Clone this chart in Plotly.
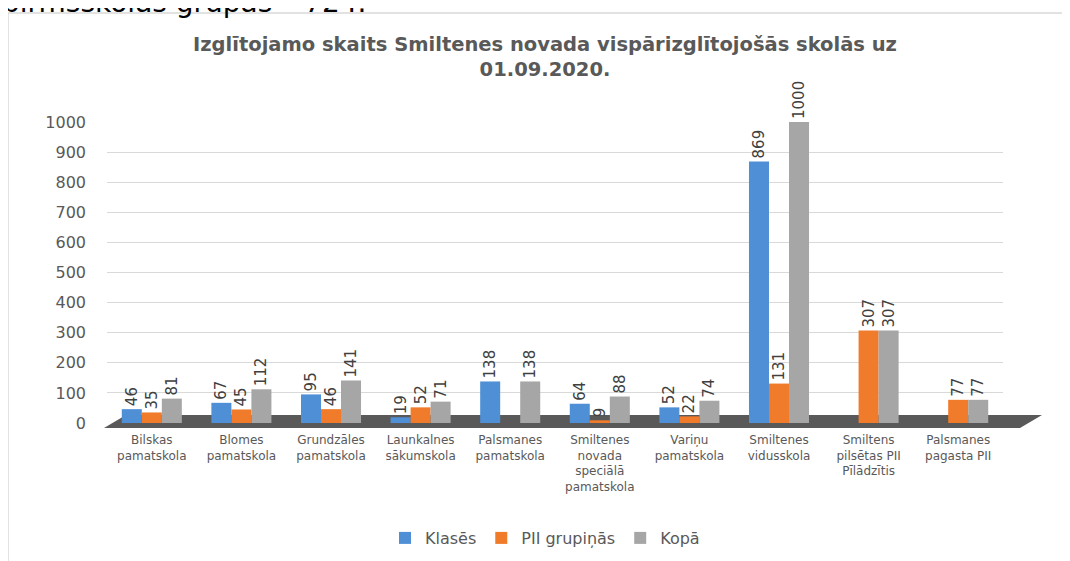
import plotly.graph_objects as go

categories = ["Bilskas<br>pamatskola", "Blomes<br>pamatskola", "Grundzāles<br>pamatskola",
              "Launkalnes<br>sākumskola", "Palsmanes<br>pamatskola",
              "Smiltenes<br>novada<br>speciālā<br>pamatskola", "Variņu<br>pamatskola",
              "Smiltenes<br>vidusskola", "Smiltens<br>pilsētas PII<br>Pīlādzītis",
              "Palsmanes<br>pagasta PII"]
klases = [46, 67, 95, 19, 138, 64, 52, 869, None, None]
pii = [35, 45, 46, 52, None, 9, 22, 131, 307, 77]
kopa = [81, 112, 141, 71, 138, 88, 74, 1000, 307, 77]
y_ticks = [0, 100, 200, 300, 400, 500, 600, 700, 800, 900, 1000]

series = [("Klasēs", klases, "#4F8FD6"),
          ("PII grupiņās", pii, "#F07B2A"),
          ("Kopā", kopa, "#A6A6A6")]

FONT = "DejaVu Sans"

fig = go.Figure()
for name, vals, col in series:
    fig.add_trace(go.Bar(
        x=categories, y=vals, name=name,
        marker=dict(color=col, line=dict(width=0)),
        text=[("" if v is None else str(v)) for v in vals],
        textposition="outside", textangle=-90, constraintext="none",
        textfont=dict(family=FONT, size=15, color="#404040"),
        cliponaxis=False,
    ))

W, H = 1070, 561
OFF = 8  # page body margin offset
# plot area in page pixels
L_ref, R_ref, T_ref, B_ref = 107, 1003, 122, 423
L, T = L_ref - OFF, T_ref - OFF
R, B = W - (R_ref - OFF), H - (B_ref - OFF)
pw, ph = R_ref - L_ref, B_ref - T_ref

def px(x):
    return (x - L_ref) / pw

def py(y):
    return (B_ref - y) / ph

floor = "M {x0},{y0} L {x1},{y0} L {x2},{y2} L {x3},{y2} Z".format(
    x0=px(104), y0=py(428), x1=px(1020), x2=px(1042), y2=py(415), x3=px(126))

fig.update_layout(
    width=W, height=H,
    margin=dict(l=L, r=R, t=T, b=B, autoexpand=False),
    paper_bgcolor="white", plot_bgcolor="white",
    barmode="group", bargap=0.33, bargroupgap=0.0,
    font=dict(family=FONT, color="#595959"),
    title=dict(text="<b>Izglītojamo skaits Smiltenes novada vispārizglītojošās skolās uz<br>01.09.2020.</b>",
               x=(545 - OFF) / W, xanchor="center", y=1 - 43 / H, yanchor="middle",
               font=dict(size=19.5, color="#595959", family=FONT)),
    legend=dict(orientation="h", x=px(545), xanchor="center",
                y=py(538), yanchor="middle", itemwidth=30,
                font=dict(size=16, color="#595959", family=FONT), traceorder="normal"),
    xaxis=dict(showgrid=False, showline=False, ticks="",
               tickfont=dict(size=12, color="#595959", family=FONT), tickangle=0,
               ticklabelstandoff=8),
    yaxis=dict(range=[0, 1000], tickvals=y_ticks, showgrid=True, gridcolor="#D9D9D9",
               gridwidth=1, zeroline=False,
               tickfont=dict(size=16, color="#595959", family=FONT), ticks="",
               ticklabelstandoff=20),
    shapes=[
        dict(type="rect", xref="paper", yref="paper",
             x0=px(8), x1=px(1080), y0=py(570), y1=py(13),
             line=dict(color="#D9D9D9", width=1.5), fillcolor="rgba(0,0,0,0)", layer="below"),
        dict(type="path", xref="paper", yref="paper", path=floor,
             fillcolor="#595959", line=dict(width=0), layer="below"),
    ],
    annotations=[
        dict(text="pirmsskolas grupās – 724.", xref="paper", yref="paper",
             x=px(0), y=py(3), xanchor="left", yanchor="middle", showarrow=False,
             font=dict(size=28, color="#000000", family=FONT)),
    ],
)

fig.write_html("out.html")
